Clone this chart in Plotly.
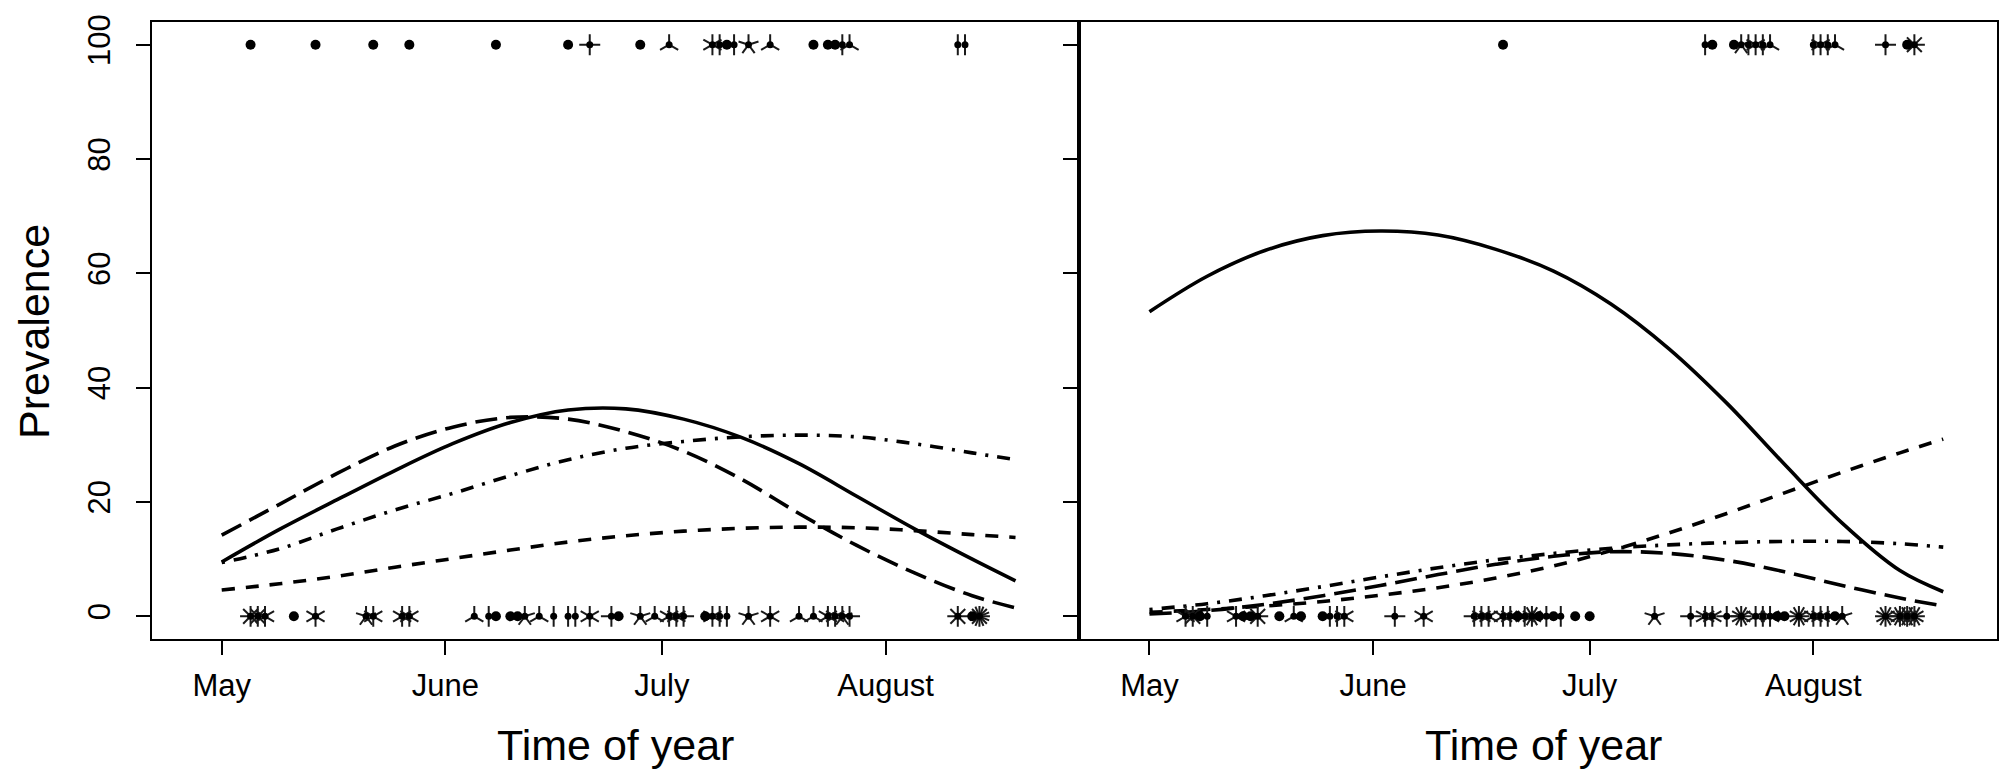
import numpy as np
import pandas as pd
import plotly.graph_objects as go

YEAR = "2009"
SEASON_START = "05-01"
month_starts = ["05-01", "06-01", "07-01", "08-01"]
month_labels = ["May", "June", "July", "August"]
y_ticks = [0, 20, 40, 60, 80, 100]

# ---- fitted prevalence curves (days after 1 May, prevalence %) ----
curve_days = [0, 8, 16, 24, 32, 40, 48, 56, 64, 72, 80, 88, 96, 104, 110]

left_solid = [9.5, 15.2, 20.4, 25.5, 30.2, 33.9, 36.1, 36.3, 34.5, 31.3, 26.7, 21.0, 15.3, 10.0, 6.2]
left_longdash = [14.2, 19.6, 25.0, 29.8, 33.1, 34.8, 34.5, 32.3, 28.9, 24.0, 18.0, 12.4, 7.6, 3.6, 1.5]
left_dashdot = [9.4, 11.8, 15.3, 18.6, 21.5, 24.6, 27.4, 29.4, 30.6, 31.4, 31.7, 31.4, 30.2, 28.6, 27.4]
left_dash = [4.6, 5.7, 7.0, 8.6, 10.1, 11.6, 13.0, 14.1, 14.9, 15.4, 15.6, 15.5, 15.0, 14.3, 13.8]

right_solid = [53.3, 59.5, 64.0, 66.6, 67.4, 66.7, 64.2, 60.4, 54.6, 46.8, 37.3, 26.6, 16.3, 8.0, 4.3]
right_longdash = [0.4, 1.0, 2.1, 3.6, 5.4, 7.3, 9.1, 10.5, 11.3, 11.0, 9.8, 7.8, 5.4, 3.2, 1.8]
right_dashdot = [1.2, 2.2, 3.6, 5.2, 6.9, 8.5, 9.9, 11.0, 11.9, 12.5, 12.9, 13.1, 13.1, 12.7, 12.1]
right_dash = [0.7, 1.2, 1.8, 2.6, 3.7, 5.0, 6.7, 8.8, 11.5, 14.6, 18.0, 21.6, 25.2, 28.6, 31.0]

# ---- observations (sunflower plot: date, number of records) ----
left_pos_dates = ["05-05", "05-14", "05-22", "05-27", "06-08", "06-18", "06-21", "06-28", "07-02",
                  "07-08", "07-09", "07-10", "07-11", "07-13", "07-16", "07-22", "07-24", "07-25",
                  "07-26", "07-27", "08-11", "08-12"]
left_pos_counts = [1, 1, 1, 1, 1, 1, 4, 1, 3, 6, 2, 1, 2, 5, 3, 1, 1, 1, 2, 3, 2, 2]

left_neg_dates = ["05-05", "05-06", "05-07", "05-11", "05-14", "05-21", "05-22", "05-26", "05-27",
                  "06-05", "06-07", "06-08", "06-10", "06-11", "06-12", "06-14", "06-16", "06-18",
                  "06-19", "06-21", "06-24", "06-25", "06-28", "06-30", "07-02", "07-03", "07-04",
                  "07-07", "07-08", "07-09", "07-10", "07-13", "07-16", "07-20", "07-22", "07-24",
                  "07-25", "07-26", "07-27", "08-11", "08-13", "08-14"]
left_neg_counts = [8, 8, 6, 1, 6, 5, 6, 6, 6, 3, 2, 1, 1, 1, 5, 3, 2, 2, 2, 6, 4, 1, 5, 3, 6, 6, 4,
                   1, 6, 2, 2, 5, 6, 3, 3, 6, 6, 5, 4, 8, 1, 16]

right_pos_dates = ["06-19", "07-17", "07-18", "07-21", "07-22", "07-23", "07-24", "07-25", "07-26",
                   "08-01", "08-02", "08-03", "08-04", "08-11", "08-14", "08-15"]
right_pos_counts = [1, 2, 1, 1, 5, 2, 6, 2, 3, 2, 6, 2, 3, 4, 1, 8]

right_neg_dates = ["05-06", "05-07", "05-08", "05-09", "05-13", "05-14", "05-15", "05-16", "05-19",
                   "05-21", "05-22", "05-25", "05-26", "05-27", "05-28", "06-04", "06-08", "06-15",
                   "06-16", "06-17", "06-19", "06-20", "06-21", "06-22", "06-23", "06-24", "06-25",
                   "06-26", "06-27", "06-29", "07-01", "07-10", "07-15", "07-17", "07-18", "07-20",
                   "07-22", "07-24", "07-25", "07-26", "07-27", "07-28", "07-30", "08-01", "08-02",
                   "08-03", "08-04", "08-05", "08-11", "08-13", "08-14", "08-15"]
right_neg_counts = [6, 8, 1, 2, 6, 1, 1, 8, 1, 3, 1, 1, 2, 2, 6, 4, 6, 4, 6, 6, 6, 6, 1, 6, 12, 1, 2,
                    1, 2, 1, 1, 5, 4, 6, 6, 4, 12, 6, 2, 6, 1, 1, 12, 6, 6, 2, 1, 5, 12, 12, 12, 12]

# ---------------------------------------------------------------------
W, H = 1999, 769
start = pd.Timestamp(f"{YEAR}-{SEASON_START}")


def to_days(dates):
    return [(pd.Timestamp(f"{YEAR}-{d}") - start).days for d in dates]


tick_days = to_days(month_starts)

Y_RANGE = [-4, 104]
Y_DOM = [1 - 638 / H, 1 - 15 / H]
panels = [
    dict(xdom=[152 / W, 1080 / W], xrange=[-9.67, 118.86], xa="x", ya="y",
         curves=[left_solid, left_longdash, left_dashdot, left_dash],
         obs=[(left_pos_dates, left_pos_counts, 100), (left_neg_dates, left_neg_counts, 0)]),
    dict(xdom=[1080 / W, 1998 / W], xrange=[-9.7, 117.45], xa="x2", ya="y2",
         curves=[right_solid, right_longdash, right_dashdot, right_dash],
         obs=[(right_pos_dates, right_pos_counts, 100), (right_neg_dates, right_neg_counts, 0)]),
]

dashes = ["solid", "22px,9px", "3px,9px,13px,9px", "13px,11px"]
PETAL_PX = 10.5

fig = go.Figure()
for p in panels:
    for vals, dsh in zip(p["curves"], dashes):
        fig.add_trace(go.Scatter(x=curve_days, y=vals, mode="lines", xaxis=p["xa"], yaxis=p["ya"],
                                 line=dict(color="black", width=3.6, dash=dsh, shape="spline"),
                                 hoverinfo="skip", showlegend=False))
    # pixel scale of this panel
    px_per_day = (p["xdom"][1] - p["xdom"][0]) * W / (p["xrange"][1] - p["xrange"][0])
    px_per_unit = (Y_DOM[1] - Y_DOM[0]) * H / (Y_RANGE[1] - Y_RANGE[0])
    rx, ry = PETAL_PX / px_per_day, PETAL_PX / px_per_unit
    for dates, counts, level in p["obs"]:
        days = to_days(dates)
        sx, sy, mx, my, px_, py_ = [], [], [], [], [], []
        for d, n in zip(days, counts):
            if n == 1:
                sx.append(d); sy.append(level)
            else:
                mx.append(d); my.append(level)
                for j in range(1, n + 1):
                    a = 2 * np.pi * j / n
                    px_ += [d, d + rx * np.sin(a), None]
                    py_ += [level, level + ry * np.cos(a), None]
        fig.add_trace(go.Scatter(x=px_, y=py_, mode="lines", xaxis=p["xa"], yaxis=p["ya"],
                                 line=dict(color="#1a1a1a", width=2), hoverinfo="skip",
                                 showlegend=False))
        fig.add_trace(go.Scatter(x=mx, y=my, mode="markers", xaxis=p["xa"], yaxis=p["ya"],
                                 marker=dict(color="black", size=7), hoverinfo="skip",
                                 showlegend=False))
        fig.add_trace(go.Scatter(x=sx, y=sy, mode="markers", xaxis=p["xa"], yaxis=p["ya"],
                                 marker=dict(color="black", size=10), hoverinfo="skip",
                                 showlegend=False))

FONT = "Liberation Sans, Arial, Helvetica, sans-serif"
common_x = dict(tickmode="array", tickvals=tick_days, ticktext=month_labels, ticks="outside",
                ticklen=14, tickwidth=2, tickcolor="black", showline=True, linewidth=2,
                linecolor="black", mirror=True, showgrid=False, zeroline=False,
                tickfont=dict(family=FONT, size=31, color="black"), ticklabelstandoff=4)
common_y = dict(tickmode="array", tickvals=y_ticks, range=Y_RANGE, domain=Y_DOM, ticks="outside",
                ticklen=14, tickwidth=2, tickcolor="black", showline=True, linewidth=2,
                linecolor="black", mirror=True, showgrid=False, zeroline=False,
                tickfont=dict(family=FONT, size=31, color="black"), tickangle=-90)

fig.update_layout(
    width=W, height=H, margin=dict(l=0, r=0, t=0, b=0),
    paper_bgcolor="white", plot_bgcolor="white",
    xaxis=dict(domain=panels[0]["xdom"], range=panels[0]["xrange"], anchor="y", **common_x),
    yaxis=dict(anchor="x", ticklabelstandoff=14, **common_y),
    xaxis2=dict(domain=panels[1]["xdom"], range=panels[1]["xrange"], anchor="y2", **common_x),
    yaxis2=dict(anchor="x2", showticklabels=False, **common_y),
    annotations=[
        dict(text="Time of year", x=(152 + 1080) / 2 / W, y=1 - 745 / H, xref="paper", yref="paper",
             showarrow=False, font=dict(family=FONT, size=43, color="black"), xanchor="center",
             yanchor="middle"),
        dict(text="Time of year", x=(1080 + 2008) / 2 / W, y=1 - 745 / H, xref="paper", yref="paper",
             showarrow=False, font=dict(family=FONT, size=43, color="black"), xanchor="center",
             yanchor="middle"),
        dict(text="Prevalence", x=34 / W, y=1 - 327 / H, xref="paper", yref="paper",
             showarrow=False, textangle=-90, font=dict(family=FONT, size=43, color="black"),
             xanchor="center", yanchor="middle"),
    ],
)

fig.write_html("out.html")
